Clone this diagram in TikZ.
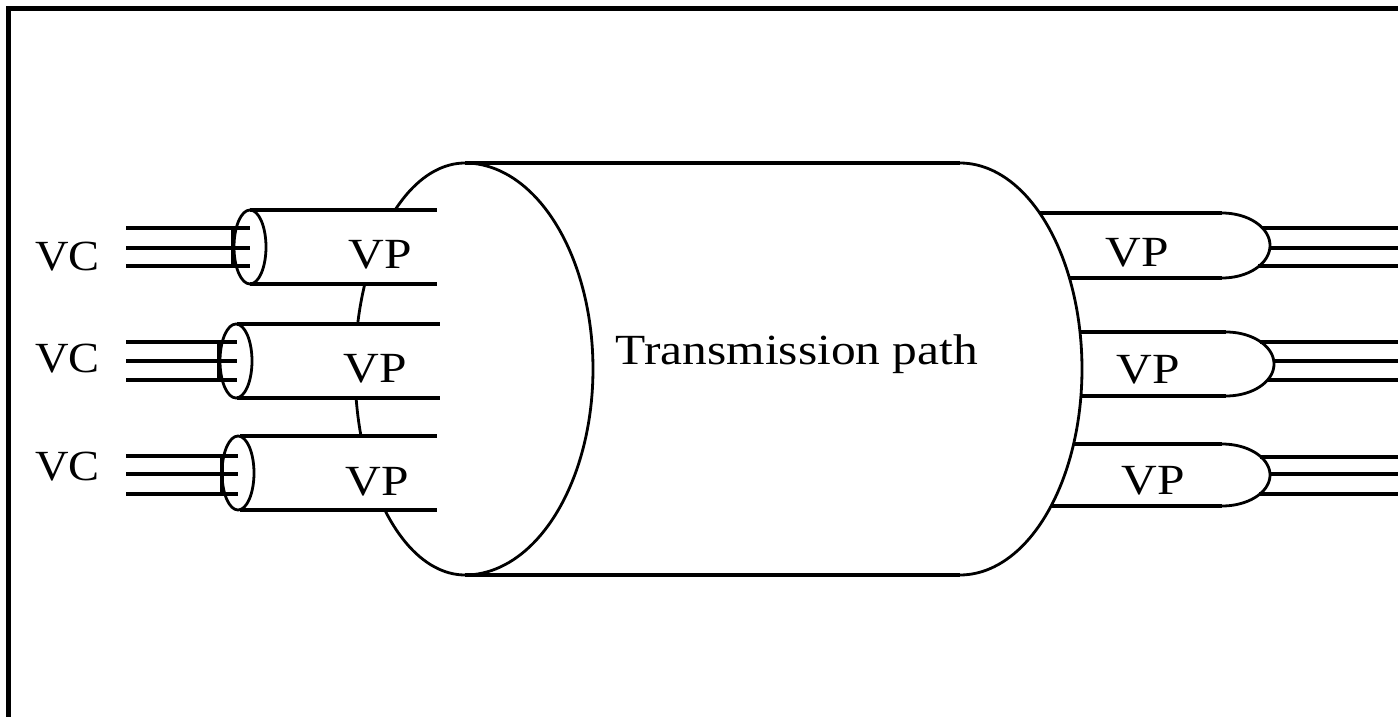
\documentclass[tikz,border=0pt]{standalone}
\usepackage{fontspec}
\setmainfont{Liberation Serif}
\newcommand{\sxa}[1]{\scalebox{1.15}[1]{#1}}
\newcommand{\sxb}[1]{\scalebox{1.08}[1]{#1}}
\tikzset{
  ln/.style={line width=3.3pt},
  crv/.style={line width=2.8pt},
  frame/.style={line width=5pt},
  lbl/.style={anchor=base, inner sep=0pt, font=\fontsize{43}{43}\selectfont}
}
\begin{document}
\begin{tikzpicture}[x=1pt,y=-1pt]
\useasboundingbox (0,0) rectangle (1398,717);
% frame
\draw[frame] (8.5,717) -- (8.5,8.5) -- (1398,8.5);

% main cylinder
\draw[crv] plot[domain=90:270,samples=90] ({465+110*cos(\x)},{369+206*sin(\x)});
\draw[crv] plot[domain=-90:90,samples=90] ({465+128*cos(\x)},{369+206*sin(\x)});
\draw[ln] (465,163) -- (960,163);
\draw[ln] (465,575) -- (960,575);
\draw[crv] plot[domain=-90:90,samples=90] ({960+122*cos(\x)},{369+206*sin(\x)});

% left tubes: hide the rear ellipse behind them
\fill[white] (250,211.5) rectangle (445,282.5);
\fill[white] (237,325.5) rectangle (445,396.5);
\fill[white] (238,437.5) rectangle (445,508.5);

% tube 1
\draw[ln] (250,210) -- (437,210);
\draw[ln] (250,284) -- (437,284);
\draw[crv] (250,247) ellipse[x radius=16pt, y radius=37pt];
\draw[ln] (126,228) -- (250,228);
\draw[ln] (126,248) -- (250,248);
\draw[ln] (126,266) -- (250,266);
\draw[ln] (233,227) -- (233,267);
% tube 2
\draw[ln] (237,324) -- (440,324);
\draw[ln] (237,398) -- (440,398);
\draw[crv] (236,361) ellipse[x radius=16pt, y radius=37pt];
\draw[ln] (126,342) -- (237,342);
\draw[ln] (126,361) -- (237,361);
\draw[ln] (126,380) -- (237,380);
\draw[ln] (219,341) -- (219,381);
% tube 3
\draw[ln] (240,436) -- (437,436);
\draw[ln] (240,510) -- (437,510);
\draw[crv] (238,473) ellipse[x radius=16pt, y radius=37pt];
\draw[ln] (126,456) -- (238,456);
\draw[ln] (126,474) -- (238,474);
\draw[ln] (126,494) -- (238,494);
\draw[ln] (222,455) -- (222,495);

% right tubes
\draw[ln] (1040,213) -- (1222,213);
\draw[ln] (1069.5,278) -- (1222,278);
\draw[crv] plot[domain=-90:90,samples=50] ({1222+48*cos(\x)},{245.5+32.5*sin(\x)});
\draw[ln] (1262,228) -- (1398,228);
\draw[ln] (1269,248) -- (1398,248);
\draw[ln] (1258,266) -- (1398,266);

\draw[ln] (1080,332) -- (1226,332);
\draw[ln] (1081,396) -- (1226,396);
\draw[crv] plot[domain=-90:90,samples=50] ({1226+48*cos(\x)},{364+32*sin(\x)});
\draw[ln] (1260,342) -- (1398,342);
\draw[ln] (1273,361) -- (1398,361);
\draw[ln] (1267,380) -- (1398,380);

\draw[ln] (1073.5,444) -- (1222,444);
\draw[ln] (1051,506) -- (1222,506);
\draw[crv] plot[domain=-90:90,samples=50] ({1222+48*cos(\x)},{475+31*sin(\x)});
\draw[ln] (1260,457) -- (1398,457);
\draw[ln] (1269,474) -- (1398,474);
\draw[ln] (1259,494) -- (1398,494);

% labels
\node[lbl] (vc1) at (67.5,270) {\sxb{VC}};
\node[lbl] (vc2) at (67.5,372) {\sxb{VC}};
\node[lbl] (vc3) at (67.5,480) {\sxb{VC}};
\node[lbl] (vpl1) at (380,268) {\sxa{VP}};
\node[lbl] (vpl2) at (375,382) {\sxa{VP}};
\node[lbl] (vpl3) at (377,495) {\sxa{VP}};
\node[lbl] (vpr1) at (1137,266) {\sxa{VP}};
\node[lbl] (vpr2) at (1148,383) {\sxa{VP}};
\node[lbl] (vpr3) at (1153,494) {\sxa{VP}};
\node[lbl] (tp) at (797,364) {\sxa{Transmission path}};
\end{tikzpicture}
\end{document}
